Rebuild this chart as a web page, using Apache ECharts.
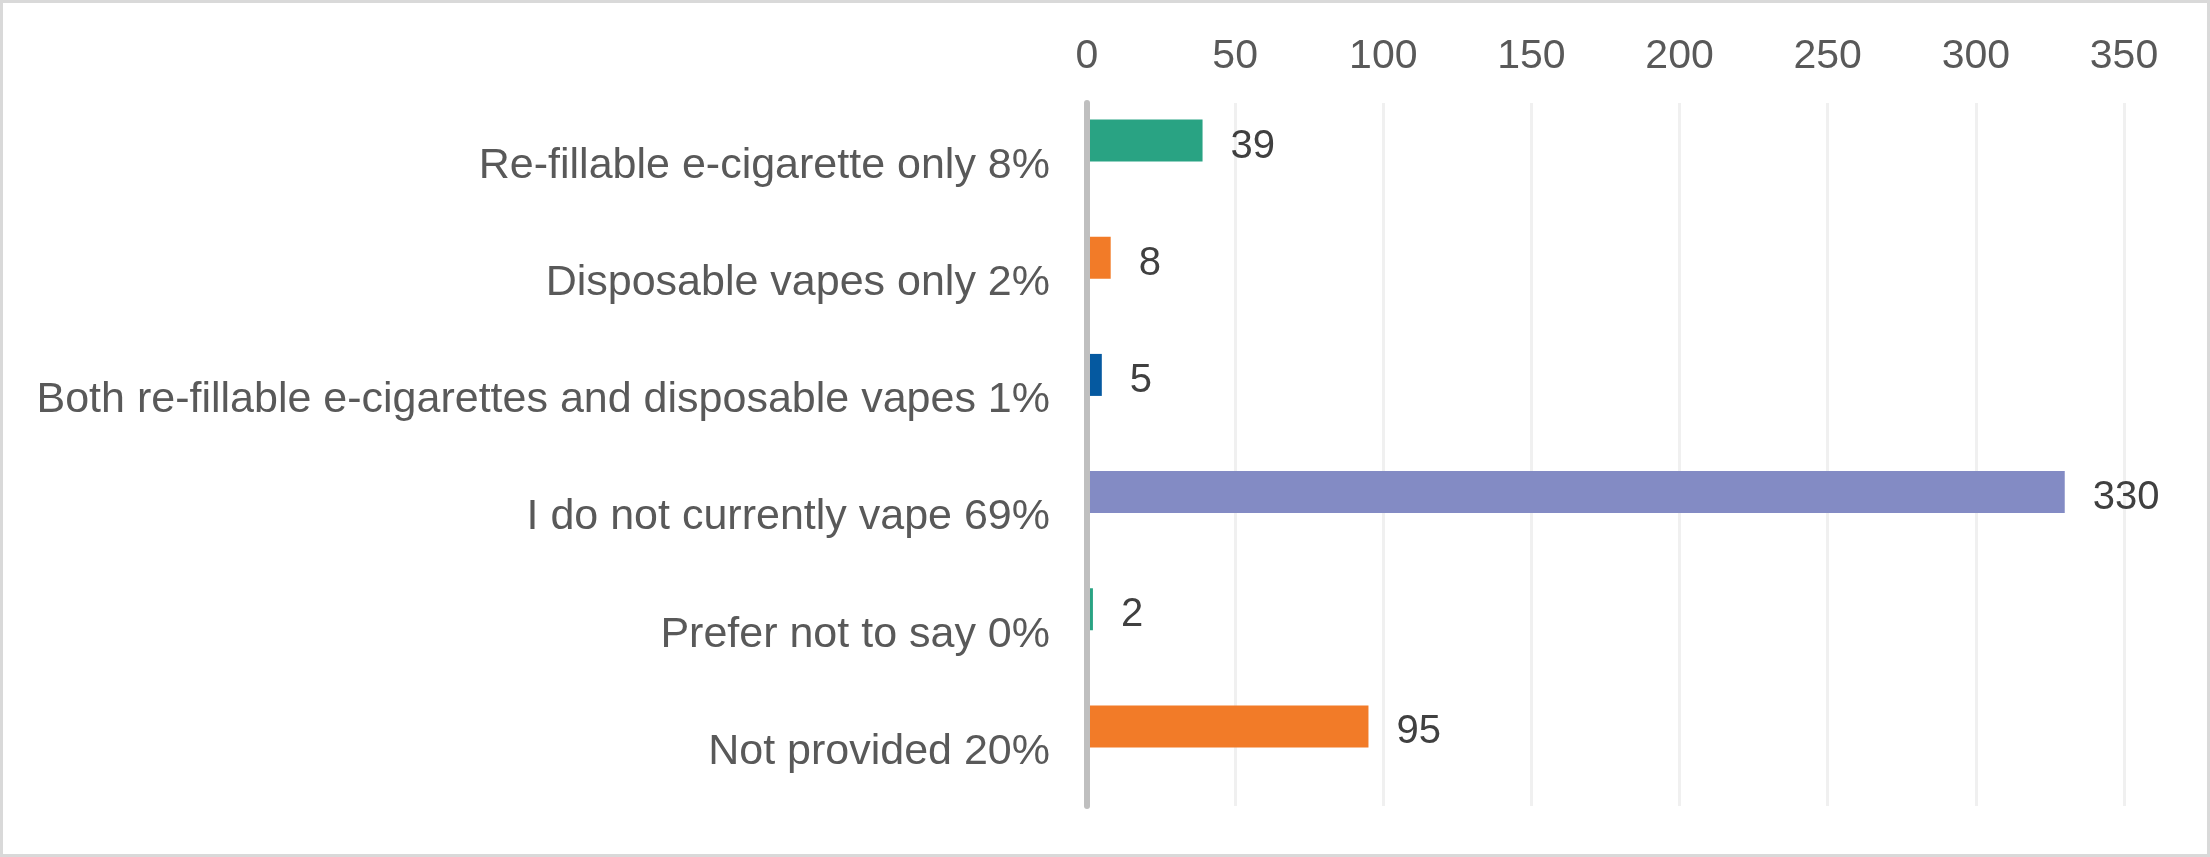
<!DOCTYPE html>
<html>
<head>
<meta charset="utf-8">
<script src="https://cdn.jsdelivr.net/npm/echarts@6/dist/echarts.min.js"></script>
<style>
html,body{margin:0;padding:0;background:#fff;}
#chart{width:2210px;height:857px;}
</style>
</head>
<body>
<div id="chart"></div>
<script>
const categories = [
  "Re-fillable e-cigarette only 8%",
  "Disposable vapes only 2%",
  "Both re-fillable e-cigarettes and disposable vapes 1%",
  "I do not currently vape 69%",
  "Prefer not to say 0%",
  "Not provided 20%"
];
const values = [39, 8, 5, 330, 2, 95];
const emptySeries = [null, null, null, null, null, null];
const barColors = ["#29A383", "#F27B28", "#0559A0", "#838BC4", "#29A383", "#F27B28"];
const axisMin = 0, axisMax = 350, axisInterval = 50;

const chart = echarts.init(document.getElementById('chart'), null, {renderer: 'canvas'});
const font = "'Liberation Sans', Arial, sans-serif";
chart.setOption({
  animation: false,
  backgroundColor: '#ffffff',
  grid: {left: 1087, right: 86, top: 103, bottom: 51, containLabel: false},
  xAxis: {
    type: 'value', position: 'top', min: axisMin, max: axisMax, interval: axisInterval,
    axisLine: {show: false}, axisTick: {show: false},
    splitLine: {show: true, lineStyle: {color: '#F0F0F0', width: 3}},
    axisLabel: {color: '#595959', fontSize: 41, fontFamily: font, margin: 26}
  },
  yAxis: {
    type: 'category', data: categories, inverse: true, z: 5,
    axisTick: {show: false},
    axisLine: {show: true, lineStyle: {color: '#BFBFBF', width: 6}},
    axisLabel: {
      margin: 37,
      formatter: v => '{a|' + v + '}',
      rich: {a: {color: '#595959', fontSize: 43, fontFamily: font, padding: [9, 0, 0, 0]}}
    }
  },
  series: [
    {
      type: 'bar', barWidth: 42, barGap: '0%',
      data: values.map((v, i) => ({value: v, itemStyle: {color: barColors[i]}})),
      label: {show: true, position: 'right', distance: 28, offset: [0, 6], color: '#404040', fontSize: 40, fontFamily: font}
    },
    {
      type: 'bar', barWidth: 42, barGap: '0%', data: emptySeries, silent: true
    }
  ],
  graphic: [{
    type: 'rect', silent: true, z: 100,
    shape: {x: 1.5, y: 1.5, width: 2207, height: 854},
    style: {fill: 'none', stroke: '#D9D9D9', lineWidth: 3}
  }]
});
</script>
</body>
</html>
